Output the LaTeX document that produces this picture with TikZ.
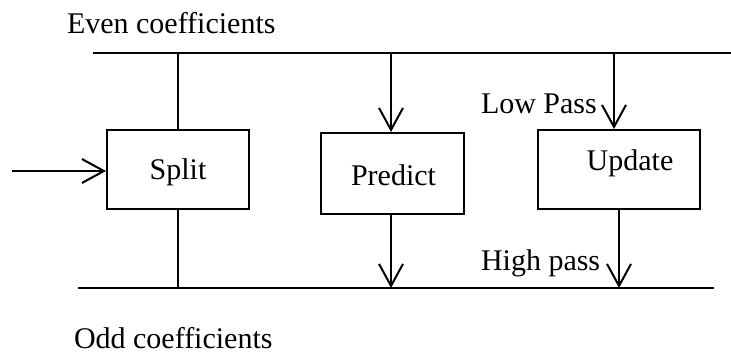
\documentclass[tikz,border=0pt]{standalone}
\usepackage{fontspec}
\setmainfont{Liberation Serif}
\usetikzlibrary{arrows.meta}
\begin{document}
\begin{tikzpicture}[x=1pt,y=-1pt,
  line width=2pt,
  every node/.style={font=\fontsize{30}{36}\selectfont, inner sep=0pt},
  blockbox/.style={draw, line width=2pt, minimum width=#1},
  blockbox/.default=142pt,
  arr/.style={-{Straight Barb[length=22pt,width=24pt,line width=2pt]}},
  lbl/.style={anchor=base west}]
\useasboundingbox (0,0) rectangle (731,356);
% rails
\coordinate (tl) at (93,53);
\coordinate (tr) at (731,53);
\coordinate (bl) at (78,288);
\coordinate (br) at (714,288);
\draw (tl) -- (tr);
\draw (bl) -- (br);
% boxes
\node[blockbox=142pt, minimum height=79pt] (split) at (178,169.5) {};
\node[blockbox=143pt, minimum height=81pt] (pred) at (392.5,173.5) {};
\node[blockbox=162pt, minimum height=79pt] (upd) at (619,169.5) {};
\node (splitt) at (178,172) {Split};
\node (predt) at (393.5,175) {Predict};
\node (updt) at (630,163) {Update};
% input
\coordinate (in) at (12,171);
\draw[arr] (in) -- (split.west |- in);
% split connections
\coordinate (s1) at (178,53);
\coordinate (s2) at (178,288);
\draw (s1) -- (split.north);
\draw (split.south) -- (s2);
% predict
\coordinate (p1) at (391,53);
\coordinate (p2) at (391,288);
\draw[arr] (p1) -- (p1 |- pred.north);
\draw[arr] (p1 |- pred.south) -- (p2);
% update
\coordinate (u1) at (614,53);
\coordinate (u2) at (619,288);
\draw[arr] (u1) -- (u1 |- upd.north);
\draw[arr] (u2 |- upd.south) -- (u2);
% labels
\node[lbl] (even) at (66,33) {Even coefficients};
\node[lbl] (odd) at (73,348) {Odd coefficients};
\node[lbl] (low) at (480,113) {Low Pass};
\node[lbl] (high) at (480,270) {High pass};
\end{tikzpicture}
\end{document}
